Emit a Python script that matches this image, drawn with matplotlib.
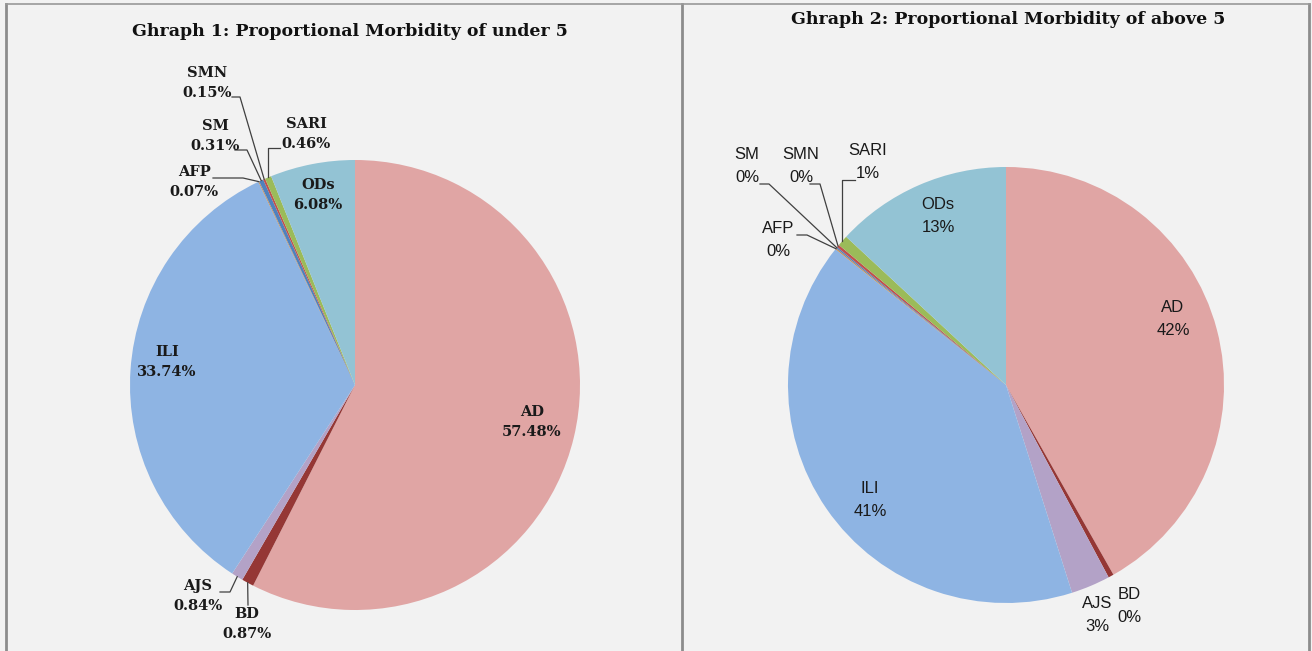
import matplotlib.pyplot as plt
import numpy as np

W, H = 1312, 651

categories = ["AD", "BD", "AJS", "ILI", "AFP", "SM", "SMN", "SARI", "ODs"]
under5 = [57.48, 0.87, 0.84, 33.74, 0.07, 0.31, 0.15, 0.46, 6.08]
above5 = [41.8, 0.4, 2.9, 40.6, 0.1, 0.1, 0.2, 0.8, 13.1]
colors = ["#e0a5a4", "#953735", "#b3a2c7", "#8eb4e3", "#c09060",
          "#4f81bd", "#c0504d", "#9bbb59", "#93c3d4"]

# label layout (pixel coords, y from top): (text x, text y, leader [knee, end])
left_layout = {
    "AD": (532, 422, None),
    "BD": (247, 624, [(248, 605)]),
    "AJS": (198, 596, [(230, 592), (220, 592)]),
    "ILI": (167, 362, None),
    "AFP": (194, 182, [(243, 178), (213, 178)]),
    "SM": (215, 136, [(247, 150), (235, 150)]),
    "SMN": (207, 83, [(240, 97), (232, 97)]),
    "SARI": (306, 134, [(280, 148)]),
    "ODs": (318, 195, None),
}
right_layout = {
    "AD": (1173, 319, None),
    "BD": (1129, 606, None),
    "AJS": (1097, 615, None),
    "ILI": (870, 500, None),
    "AFP": (778, 240, [(807, 235), (797, 235)]),
    "SM": (747, 166, [(769, 184), (760, 184)]),
    "SMN": (801, 166, [(820, 184), (810, 184)]),
    "SARI": (868, 162, [(855, 180)]),
    "ODs": (938, 216, None),
}


def py(y):
    return H - y


def draw_pie(ax, values, center, radius, layout, fmt, font):
    cx, cy = center[0], py(center[1])
    ax.pie(values, colors=colors, startangle=90, counterclock=False,
           center=(cx, cy), radius=radius,
           wedgeprops=dict(linewidth=0))
    total = sum(values)
    start = 0.0
    for cat, v in zip(categories, values):
        mid = np.deg2rad(90 - 360 * (start + v / 2) / total)
        start += v
        tx, ty, path = layout[cat]
        ax.text(tx, py(ty), f"{cat}\n{fmt(v)}", ha="center", va="center",
                color="#1a1a1a", **font)
        if path:
            ex, ey = cx + radius * np.cos(mid), cy + radius * np.sin(mid)
            if cat == "SARI":
                # vertical up from the slice, then a short stub to the label
                xs = [ex, ex, path[0][0]]
                ys = [ey, py(path[0][1]), py(path[0][1])]
            else:
                xs = [ex] + [p[0] for p in path]
                ys = [ey] + [py(p[1]) for p in path]
            ax.plot(xs, ys, color="#404040", lw=0.9)


fig = plt.figure(figsize=(W / 100, H / 100), dpi=100)
fig.patch.set_facecolor("#f2f2f2")
ax = fig.add_axes([0, 0, 1, 1])
ax.set_xlim(0, W)
ax.set_ylim(0, H)
ax.set_aspect("equal")
ax.axis("off")

title_font = dict(family="DejaVu Serif", fontweight="bold", fontsize=12.5)
left_font = dict(family="DejaVu Serif", fontweight="bold", fontsize=10.5,
                 linespacing=1.5)
right_font = dict(family="Liberation Sans", fontsize=12, linespacing=1.6)

draw_pie(ax, under5, (355, 385), 225, left_layout,
         lambda v: f"{v:.2f}%", left_font)
draw_pie(ax, above5, (1006, 385), 218, right_layout,
         lambda v: f"{round(v):.0f}%", right_font)

ax.set_xlim(0, W)
ax.set_ylim(0, H)

ax.text(350, py(32), "Ghraph 1: Proportional Morbidity of under 5",
        ha="center", va="center", color="#111111", **title_font)
ax.text(1008, py(20), "Ghraph 2: Proportional Morbidity of above 5",
        ha="center", va="center", color="#111111", **title_font)

# panel borders
border = dict(color="#8c8c8c", lw=2)
ax.plot([6, 6], [0, py(4)], **border)
ax.plot([682, 682], [0, py(4)], **border)
ax.plot([1309, 1309], [0, py(4)], **border)
ax.plot([6, 1309], [py(4), py(4)], color="#999999", lw=1.2)

fig.savefig("out.png", dpi=100, facecolor=fig.get_facecolor())
